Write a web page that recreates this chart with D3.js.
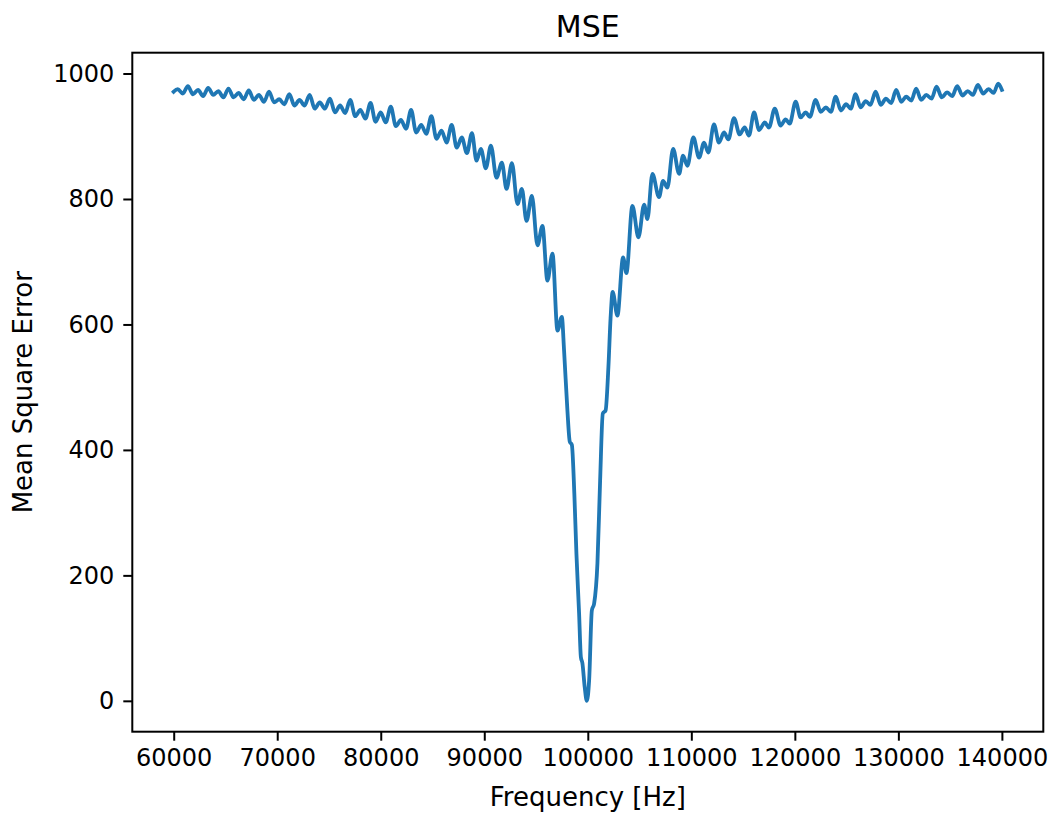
<!DOCTYPE html>
<html>
<head>
<meta charset="utf-8">
<script src="https://cdn.jsdelivr.net/npm/d3@7"></script>
<style>
  body { margin: 0; background: #ffffff; }
  text { font-family: "DejaVu Sans", sans-serif; fill: #000; }
</style>
</head>
<body>
<div id="chart"></div>
<script>
// frequency [Hz] of each sample
const freq = [
  60000, 60390, 60880, 61370, 61860, 62350, 62840, 63330, 63820, 64310,
  64800, 65290, 65780, 66270, 66760, 67250, 67740, 68230, 68720, 69210,
  69700, 70190, 70680, 71170, 71660, 72150, 72640, 73130, 73620, 74110,
  74600, 75090, 75580, 76070, 76560, 77050, 77540, 78030, 78520, 79010,
  79500, 79990, 80480, 80970, 81460, 81950, 82440, 82930, 83420, 83910,
  84400, 84890, 85380, 85870, 86360, 86850, 87340, 87830, 88320, 88810,
  89250, 89670, 90150, 90640, 91180, 91700, 92150, 92670, 93210, 93630,
  94080, 94600, 95140, 95620, 96100, 96590, 97070, 97490, 97710, 98030,
  98260, 98460, 98700, 98900, 99160, 99330, 99480, 99700, 99900, 100130,
  100390, 100610, 100930, 101190, 101450, 101720, 101990, 102200, 102400, 102860,
  103410, 103730, 104310, 104890, 105440, 105760, 106240, 106880, 107270, 107690,
  108240, 108820, 109200, 109620, 110200, 110750, 111230, 111640, 112190, 112670,
  113160, 113580, 114120, 114670, 115150, 115570, 116060, 116550, 117090, 117500,
  118060, 118630, 119110, 119500, 120080, 120560, 121050, 121450, 122010, 122500,
  123000, 123480, 123950, 124450, 124950, 125400, 125870, 126350, 126850, 127300,
  127800, 128300, 128800, 129300, 129790, 130280, 130750, 131250, 131720, 132200,
  132700, 133200, 133690, 134200, 134700, 135200, 135680, 136200, 136700, 137200,
  137680, 138200, 138700, 139200, 139640, 140000
];

// mean square error at each frequency
const mse = [
  971, 975, 968, 980, 967, 974, 964, 977, 966, 972,
  962, 976, 962, 969, 959, 973, 958, 966, 955, 971,
  954, 959, 951, 967, 949, 958, 949, 966, 944, 954,
  944, 960, 938, 949, 937, 958, 932, 942, 928, 953,
  923, 938, 922, 947, 916, 926, 912, 942, 906, 918,
  904, 932, 896, 909, 890, 918, 882, 898, 873, 905,
  861, 880, 849, 885, 834, 858, 816, 857, 792, 816,
  765, 805, 726, 757, 670, 713, 590, 612, 558, 463,
  413, 408, 330, 235, 139, 70, 60, 22, 0, 33,
  144, 155, 219, 351, 458, 463, 532, 610, 652, 614,
  707, 682, 789, 739, 791, 768, 840, 803, 829, 818,
  880, 840, 869, 853, 898, 866, 890, 874, 919, 890,
  906, 895, 929, 903, 914, 901, 938, 910, 922, 914,
  944, 917, 927, 920, 955, 930, 938, 931, 958, 939,
  946, 939, 963, 941, 951, 944, 967, 946, 956, 950,
  971, 950, 960, 953, 974, 955, 963, 957, 976, 958,
  966, 960, 979, 962, 970, 964, 980, 965, 972, 966,
  982, 968, 975, 969, 984, 974
];

const xTicks = [60000, 70000, 80000, 90000, 100000, 110000, 120000, 130000, 140000];
const yTicks = [0, 200, 400, 600, 800, 1000];

function drawChart() {
    let totalWidth = 1056;
    let totalHeight = 817;
    let marginLeft = 132.3;
    let marginTop = 52.7;
    let width = 911;
    let height = 679;

    let data = freq.map(function(f, i) { return {f: f, v: mse[i]}; });

    let svg = d3.select("#chart")
        .append("svg")
        .attr("width", totalWidth)
        .attr("height", totalHeight)
        .style("background", "#ffffff")
        .append("g")
        .attr("transform", "translate(" + marginLeft + "," + marginTop + ")");

    // matplotlib style 5% padding around data
    let xExt = d3.extent(data, function(d) { return d.f; });
    let yExt = d3.extent(data, function(d) { return d.v; });
    let xPad = (xExt[1] - xExt[0]) * 0.05;
    let yPad = (yExt[1] - yExt[0]) * 0.05;

    let xScale = d3.scaleLinear()
        .domain([xExt[0] - xPad, xExt[1] + xPad])
        .range([0, width]);

    let yScale = d3.scaleLinear()
        .domain([yExt[0] - yPad, yExt[1] + yPad])
        .range([height, 0]);

    // bottom axis
    let xAxis = svg.append("g")
        .attr("transform", "translate(0," + height + ")")
        .call(d3.axisBottom(xScale)
            .tickValues(xTicks)
            .tickFormat(d3.format("d"))
            .tickSize(9)
            .tickSizeOuter(0)
            .tickPadding(8));

    // left axis
    let yAxis = svg.append("g")
        .call(d3.axisLeft(yScale)
            .tickValues(yTicks)
            .tickFormat(d3.format("d"))
            .tickSize(9)
            .tickSizeOuter(0)
            .tickPadding(9));

    [xAxis, yAxis].forEach(function(ax) {
        ax.select(".domain").remove();
        ax.selectAll(".tick line").attr("stroke", "#000").attr("stroke-width", 2);
        ax.selectAll(".tick text")
            .style("font-family", "DejaVu Sans")
            .style("font-size", "24px")
            .attr("fill", "#000");
    });

    // the line, smoothed a little without overshoot
    let line = d3.line()
        .curve(d3.curveMonotoneX)
        .x(function(d) { return xScale(d.f); })
        .y(function(d) { return yScale(d.v); });

    svg.append("path")
        .datum(data)
        .attr("d", line)
        .attr("fill", "none")
        .attr("stroke", "#1f77b4")
        .attr("stroke-width", 3.8)
        .attr("stroke-linejoin", "round")
        .attr("stroke-linecap", "square");

    // frame
    svg.append("rect")
        .attr("x", 0)
        .attr("y", 0)
        .attr("width", width)
        .attr("height", height)
        .attr("fill", "none")
        .attr("stroke", "#000")
        .attr("stroke-width", 2);

    // TITLE
    svg.append("text")
        .attr("x", width / 2)
        .attr("y", -16)
        .attr("text-anchor", "middle")
        .style("font-size", "30px")
        .text("MSE");

    // X AXIS LABEL
    svg.append("text")
        .attr("x", width / 2)
        .attr("y", height + 74)
        .attr("text-anchor", "middle")
        .style("font-size", "26px")
        .text("Frequency [Hz]");

    // Y AXIS LABEL
    svg.append("text")
        .attr("transform", "rotate(-90)")
        .attr("x", -height / 2)
        .attr("y", -marginLeft + 32)
        .attr("text-anchor", "middle")
        .style("font-size", "26px")
        .text("Mean Square Error");
}

window.onload = () => {
    drawChart();
}
</script>
</body>
</html>
